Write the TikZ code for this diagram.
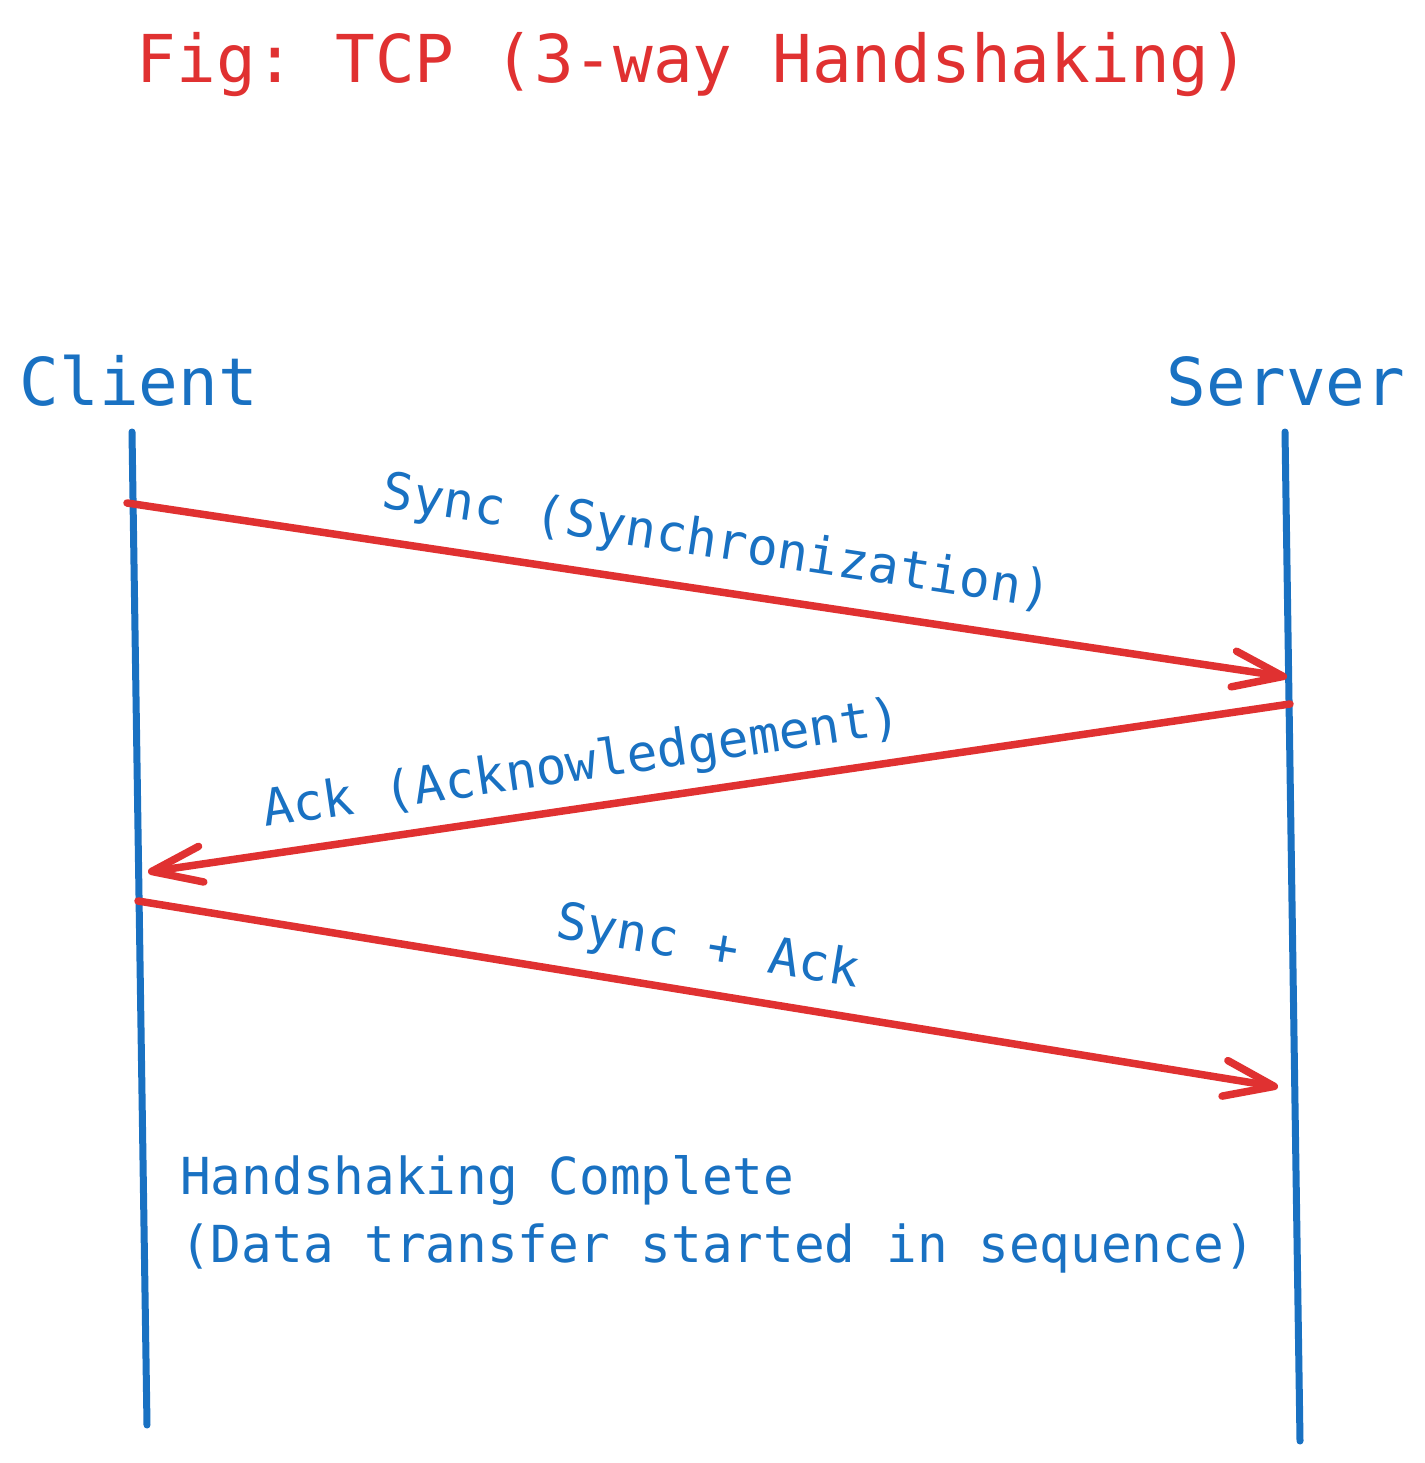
\documentclass[tikz,border=0pt]{standalone}
\usepackage{fontspec}
\setmonofont{DejaVu Sans Mono}
\usetikzlibrary{arrows.meta}
\definecolor{exred}{HTML}{E03131}
\definecolor{exblue}{HTML}{1971C2}
\tikzset{
  titletext/.style={font=\ttfamily\fontsize{66}{80}\selectfont, text=exred, inner sep=0pt},
  roletext/.style={font=\ttfamily\fontsize{66}{80}\selectfont, text=exblue, inner sep=0pt},
  msgtext/.style={font=\ttfamily\fontsize{51}{68}\selectfont, text=exblue, inner sep=0pt},
  lifeline/.style={draw=exblue, line width=7pt, line cap=round},
  msg/.style={draw=exred, line width=7.5pt, line cap=round,
    -{Straight Barb[round, length=50pt, width=36pt]}},
}
\begin{document}
\begin{tikzpicture}[x=1pt,y=-1pt]
\useasboundingbox[fill=white] (0,0) rectangle (1424,1463);
% title
\node[titletext, anchor=base] (title) at (693,83) {Fig: TCP (3-way Handshaking)};
% roles
\node[roletext, anchor=base] (client) at (139,405) {Client};
\node[roletext, anchor=base] (server) at (1286,405) {Server};
% lifelines
\coordinate (ctop) at (132,432);
\coordinate (cbot) at (147,1425);
\coordinate (stop) at (1285,432);
\coordinate (sbot) at (1300,1441);
\draw[lifeline] (ctop) -- (cbot);
\draw[lifeline] (stop) -- (sbot);
% message end points
\coordinate (m1s) at (127,503);
\coordinate (m1e) at (1287,677);
\coordinate (m2s) at (1290,704);
\coordinate (m2e) at (148,872);
\coordinate (m3s) at (138,901);
\coordinate (m3e) at (1278,1087);
\draw[msg] (m1s) -- (m1e);
\draw[msg] (m2s) -- (m2e);
\draw[msg] (m3s) -- (m3e);
% message labels
\node[msgtext, rotate=-8.6] (l1) at (717,544) {Sync (Synchronization)};
\node[msgtext, rotate=8.4] (l2) at (582,766) {Ack (Acknowledgement)};
\node[msgtext, rotate=-9.4] (l3) at (708,949) {Sync + Ack};
% completion note
\node[msgtext, anchor=north west, align=left] (done) at (180,1155)
  {Handshaking Complete\\(Data transfer started in sequence)};
\end{tikzpicture}
\end{document}
